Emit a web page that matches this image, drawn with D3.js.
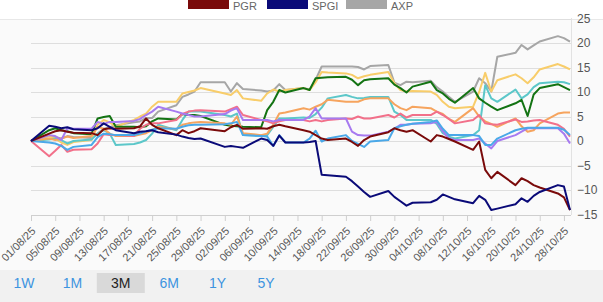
<!DOCTYPE html>
<html>
<head>
<meta charset="utf-8">
<script src="https://cdn.jsdelivr.net/npm/d3@7"></script>
<style>
  body { margin: 0; background: #fff; font-family: "Liberation Sans", Arial, sans-serif; }
  svg { display: block; }
</style>
</head>
<body>
<svg id="chart" width="603" height="302"></svg>
<script>
// trading days shown on the 3M view
var dates = ["2025-08-01","2025-08-04","2025-08-05","2025-08-06","2025-08-07","2025-08-08",
  "2025-08-11","2025-08-12","2025-08-13","2025-08-14","2025-08-15",
  "2025-08-18","2025-08-19","2025-08-20","2025-08-21","2025-08-22",
  "2025-08-25","2025-08-26","2025-08-27","2025-08-28","2025-08-29",
  "2025-09-02","2025-09-03","2025-09-04","2025-09-05",
  "2025-09-08","2025-09-09","2025-09-10","2025-09-11","2025-09-12",
  "2025-09-15","2025-09-16","2025-09-17","2025-09-18","2025-09-19",
  "2025-09-22","2025-09-23","2025-09-24","2025-09-25","2025-09-26",
  "2025-09-29","2025-09-30","2025-10-01","2025-10-02","2025-10-03",
  "2025-10-06","2025-10-07","2025-10-08","2025-10-09","2025-10-10",
  "2025-10-13","2025-10-14","2025-10-15","2025-10-16","2025-10-17",
  "2025-10-20","2025-10-21","2025-10-22","2025-10-23","2025-10-24",
  "2025-10-27","2025-10-28","2025-10-29"];

// % change since 01/08/25
var pgr = [0,1.5,2.0,2.2,1.9,1.7, 1.6,1.2,2.4,2.6,2.5, 2.6,3.0,4.6,3.3,2.6, 1.2,2.2,1.6,2.0,2.6,
  2.0,2.8,3.3,2.5, 2.6,2.5,3.0,3.3,3.0, 2.2,1.9,1.2,0.5,0.2, 0.5,-0.2,-1.0,0.2,0.9,
  1.8,2.6,2.2,1.9,2.2, -0.1,1.2,0.9,0.4,-0.1, -1.8,-0.1,-5.9,-7.6,-6.3, -9.0,-7.6,-8.2,-9.0,-9.5,
  -10.7,-11.5,-14.1];
var spgi = [0,3.1,2.9,2.6,2.8,2.4, 2.2,2.6,3.6,2.9,2.2, 1.6,1.9,2.0,2.2,1.8, 1.3,0.9,0.6,0.4,0.5,
  -1.2,-1.0,-1.2,-1.4, 0.5,0.2,-1.0,1.1,-0.3, -0.3,-0.2,0.0,-6.9,-7.0, -7.3,-8.2,-9.3,-10.4,-11.4,
  -10.2,-11.4,-12.3,-13.2,-12.6, -12.5,-12.0,-10.9,-11.4,-11.9, -12.7,-11.2,-12.0,-14.1,-13.8,
  -12.9,-11.7,-12.4,-11.2,-10.4, -9.0,-9.3,-14.1];
var axp = [0,1.0,0.8,0.5,1.0,0.8, 0.6,1.5,2.5,2.8,3.2, 3.8,4.0,4.7,4.7,6.0, 7.3,9.0,9.5,10.1,12.0,
  12.0,10.1,11.8,10.6, 10.3,10.1,10.3,11.6,10.4, 10.8,10.5,12.5,15.2,15.2, 15.2,15.2,15.1,14.6,15.3,
  15.5,11.9,11.4,12.1,12.0, 12.3,11.0,10.1,9.0,8.0, 10.1,12.8,11.8,10.1,17.2, 18.0,19.6,18.7,19.5,20.3,
  21.4,21.0,20.3];
var green = [0,2.2,2.6,2.2,2.0,1.6, 1.4,4.6,4.9,5.1,2.9, 2.9,2.8,3.0,4.0,4.6, 4.4,5.5,5.3,5.3,5.1,
  3.3,3.1,3.0,2.9, 2.8,6.3,8.0,10.4,9.9, 10.8,10.4,12.8,12.9,13.0, 13.1,12.5,11.4,12.4,12.6,
  12.8,11.5,10.8,9.9,11.1, 12.1,10.4,9.7,8.6,7.8, 10.8,8.7,7.8,7.0,6.3, 7.7,8.4,5.1,9.5,10.8,
  11.6,11.0,10.4];
var yellow = [0,1.0,0.5,-0.3,-0.8,-0.2, 0.2,3.3,4.3,3.8,2.9, 4.3,5.0,5.6,7.0,8.0, 8.0,9.7,10.0,10.3,10.8,
  9.7,9.4,10.4,8.7, 8.2,9.7,10.5,10.1,10.4, 10.8,10.4,12.0,14.1,14.0, 13.8,13.5,12.8,13.2,13.5,
  14.1,11.8,10.4,10.1,10.2, 10.1,9.4,8.0,7.0,6.7, 7.0,10.0,13.9,10.1,12.4, 13.6,12.8,11.8,13.0,14.6,
  15.7,15.2,14.6];
var teal = [0,0.3,0.5,0.2,-0.5,0.0, 0.3,1.5,2.2,1.5,-0.8, -0.6,-0.3,0.2,1.5,3.3, 2.2,4.3,6.0,6.0,6.0,
  5.3,5.0,5.6,1.2, 1.1,1.2,2.9,4.6,4.6, 4.8,4.7,5.5,6.8,8.7, 9.4,9.0,8.7,8.8,9.0,
  9.0,6.0,5.3,4.3,4.3, 4.3,3.5,1.6,0.9,0.5, 1.2,2.2,11.4,8.7,8.0, 10.5,8.7,9.5,11.0,11.8,
  12.1,12.0,11.6];
var orange = [0,0.5,0.2,0.5,0.9,0.6, 1.0,2.9,2.5,1.5,1.0, 1.0,1.3,1.6,2.2,2.9, 2.4,3.3,3.6,3.8,3.9,
  3.6,3.3,5.0,1.6, 1.2,1.5,3.3,5.6,5.8, 6.7,6.4,7.0,7.5,8.4, 8.0,8.0,8.0,8.5,8.7,
  8.7,7.5,6.7,6.3,7.0, 6.7,6.0,5.5,4.5,3.9, 6.7,5.0,4.0,3.5,2.9, 4.6,3.0,1.9,2.2,3.6,
  5.6,5.8,5.8];
var pink = [0,-3.1,-2.0,-0.8,-2.2,-1.8, -1.7,-0.5,1.4,1.2,1.2, 1.0,2.5,3.3,3.6,3.6, 4.3,5.5,6.0,6.2,6.3,
  6.0,6.5,7.0,5.3, 4.3,4.0,3.6,4.0,4.3, 4.3,4.0,4.3,4.0,4.3, 4.6,4.5,5.0,4.6,4.6,
  5.3,4.8,5.6,4.8,5.3, 5.3,6.0,5.3,4.5,3.6, 4.3,5.3,3.6,3.4,3.3, 4.4,3.9,4.0,4.2,4.3,
  3.3,2.5,0.9];
var purple = [0,1.2,1.0,0.2,2.6,2.5, 2.5,3.9,3.5,3.9,3.9, 4.1,4.5,5.3,6.0,7.0, 6.0,5.6,5.3,5.0,5.0,
  5.5,6.2,6.7,4.3, 4.3,4.3,4.0,4.3,4.3, 4.3,5.0,6.7,4.6,4.6, 4.6,1.9,1.2,1.1,1.1,
  1.9,2.5,3.3,3.3,3.5, 3.6,3.9,2.0,0.5,0.2, 0.2,0.5,-0.5,-1.5,0.0, 1.2,1.9,2.6,2.6,2.6,
  2.6,1.5,-0.5];
var lightBlue = [0,-0.3,-0.5,-1.0,-1.8,-1.2, -0.8,0.8,1.5,1.4,1.2, 1.2,1.5,2.0,2.3,2.6, 2.5,2.9,3.2,3.3,3.3,
  3.4,3.6,3.9,1.2, 1.0,0.9,-1.0,1.2,-0.3, -0.3,0.5,2.1,-0.1,0.5, 1.2,0.0,-0.6,-1.2,-0.1,
  0.2,2.6,3.0,3.3,3.5, 3.9,4.2,2.5,1.2,1.2, 1.2,1.0,-0.8,-0.8,0.5, 2.2,2.5,2.7,2.7,2.7,
  2.7,2.3,1.2];

var seriesNames = ["axp","yellow","teal","green","orange","pink","purple","lightBlue","pgr","spgi"];
var seriesValues = [axp, yellow, teal, green, orange, pink, purple, lightBlue, pgr, spgi];
var seriesColors = ["#a6a6a6","#f8cd6a","#5cc7c9","#137313","#f6a45e","#f2708a","#a77af0","#4aa8e8","#7a0a0a","#0a0a78"];

var legendNames = ["PGR","SPGI","AXP"];
var legendColors = ["#7a0a0a","#0a0a78","#a6a6a6"];

var yTicks = [-15,-10,-5,0,5,10,15,20,25];
var buttons = ["1W","1M","3M","6M","1Y","5Y"];
var activeButton = "3M";

var parse = d3.timeParse("%Y-%m-%d");
var svg = d3.select("#chart");

// backgrounds
svg.append("rect").attr("x",0).attr("y",19).attr("width",603).attr("height",251).attr("fill","#fafafa");
svg.append("line").attr("x1",0).attr("x2",603).attr("y1",19.5).attr("y2",19.5).attr("stroke","#e8e8e8");

var x = d3.scaleTime()
  .domain([parse("2025-08-01"), parse("2025-10-29")])
  .range([31, 570]);
var y = d3.scaleLinear().domain([-15, 25]).range([214.5, 18.5]);

// horizontal grid
svg.append("g").selectAll("line").data(yTicks.slice(1)).enter().append("line")
  .attr("x1",31).attr("x2",571)
  .attr("y1",d => Math.round(y(d))+0.5).attr("y2",d => Math.round(y(d))+0.5)
  .attr("stroke","#dedede");

// right axis line
svg.append("line").attr("x1",571.5).attr("x2",571.5).attr("y1",18).attr("y2",215)
  .attr("stroke","#e2e2e2");

// y labels
var yAxis = d3.axisRight(y).tickValues(yTicks).tickSize(0).tickPadding(6);
var gy = svg.append("g").attr("transform","translate(571,0)").call(yAxis);
gy.select(".domain").remove();
gy.selectAll("text").attr("fill","#555").style("font-size","12px")
  .style("font-family","'Liberation Sans', Arial, sans-serif");

// x axis
var tickDates = d3.timeDay.range(parse("2025-08-01"), parse("2025-10-30"), 4);
var xAxis = d3.axisBottom(x).tickValues(tickDates).tickFormat(d3.timeFormat("%d/%m/%y")).tickSize(6);
var gx = svg.append("g").attr("transform","translate(0,215)").call(xAxis);
gx.select(".domain").attr("stroke","#cfcfcf").attr("d","M31,0.5H571");
gx.selectAll(".tick line").attr("stroke","#cfcfcf");
gx.selectAll("text")
  .attr("fill","#555")
  .style("font-size","11px")
  .style("font-family","'Liberation Sans', Arial, sans-serif")
  .attr("text-anchor","end")
  .attr("dy","0.35em")
  .attr("transform","translate(2,14) rotate(-45)")
  .attr("y",0).attr("x",0);

// lines
var line = d3.line()
  .x((d,i) => x(parse(dates[i])))
  .y(d => y(d));

svg.append("g").selectAll("path").data(seriesValues).enter().append("path")
  .attr("d", d => line(d))
  .attr("fill","none")
  .attr("stroke",(d,i) => seriesColors[i])
  .attr("stroke-width",2)
  .attr("stroke-linejoin","round");

// legend
var lg = svg.append("g").selectAll("g").data(legendNames).enter().append("g")
  .attr("transform",(d,i) => "translate(" + (188 + i*79) + ",0)");
lg.append("rect").attr("x",0).attr("y",-1).attr("width",41).attr("height",10)
  .attr("fill",(d,i) => legendColors[i]);
lg.append("text").attr("x",45).attr("y",10).text(d => d)
  .attr("fill","#666").style("font-size","11px");

// range buttons
svg.append("rect").attr("x",0).attr("y",270).attr("width",603).attr("height",32).attr("fill","#f1f1f1");
var bx = d3.scalePoint().domain(buttons).range([24, 266]);
svg.append("rect").attr("x",bx(activeButton)-24).attr("y",273).attr("width",48).attr("height",20)
  .attr("fill","#d9d9d9");
svg.append("g").selectAll("text").data(buttons).enter().append("text")
  .attr("x",d => bx(d)).attr("y",288)
  .attr("text-anchor","middle")
  .attr("fill",d => d == activeButton ? "#222" : "#3d94e0")
  .style("font-size","14px")
  .text(d => d);
</script>
</body>
</html>
